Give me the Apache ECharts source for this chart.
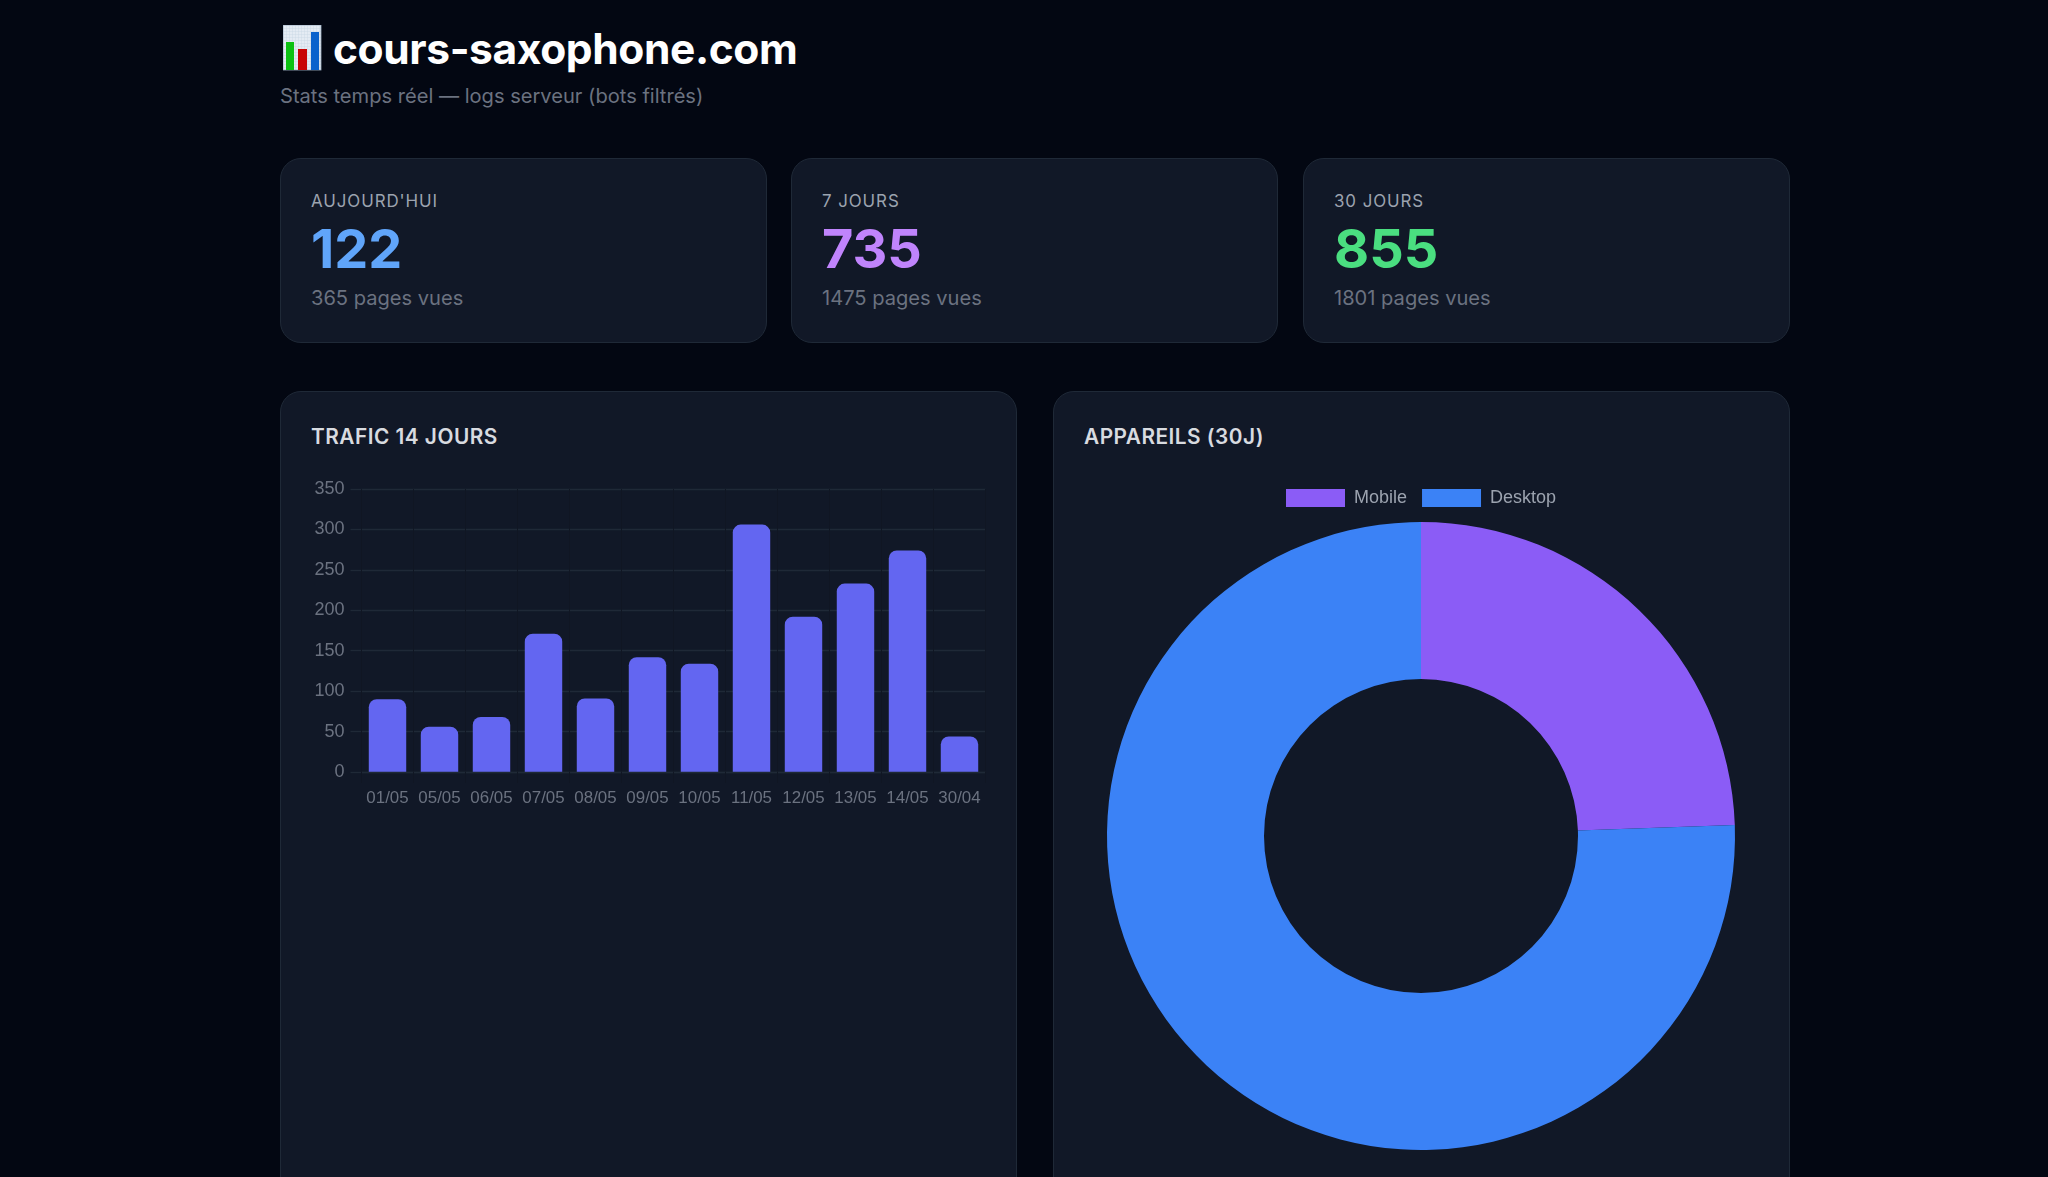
<!DOCTYPE html>
<html lang="fr">
<head>
<meta charset="utf-8">
<title>cours-saxophone.com</title>
<script src="https://cdn.jsdelivr.net/npm/echarts@6/dist/echarts.min.js"></script>
<style>
  html, body { margin: 0; height: 100%; background: #030712; overflow: hidden; }
  body { position: relative; width: 2048px; height: 1177px; font-family: Inter, "Noto Sans", sans-serif; -webkit-font-smoothing: antialiased; }
  .abs { position: absolute; white-space: nowrap; }
  h1 { margin: 0; left: 333px; top: 21px; font-size: 42.5px; line-height: 56px; font-weight: 700; color: #fff; letter-spacing: -0.4px; }
  .sub { left: 280px; top: 83px; font-size: 20.1px; line-height: 26px; color: #6b7280; }
  .card { box-sizing: border-box; position: absolute; top: 158px; width: 487px; height: 185px; background: #111827; border: 1.3px solid #1f2937; border-radius: 21px; }
  .card .lbl { position: absolute; left: 30px; top: 31px; font-size: 16.9px; line-height: 22px; color: #9ca3af; letter-spacing: 0.93px; }
  .card .val { position: absolute; left: 30px; top: 55px; font-size: 54px; line-height: 70px; font-weight: 700; }
  .card .pv  { position: absolute; left: 30px; top: 126px; font-size: 20.1px; line-height: 26px; color: #6b7280; }
  .panel { box-sizing: border-box; position: absolute; top: 391px; width: 737px; height: 900px; background: #111827; border: 1.3px solid #1f2937; border-radius: 21px; }
  .panel h2 { position: absolute; left: 30px; top: 32px; margin: 0; font-size: 20.8px; line-height: 26px; font-weight: 600; color: #d8dbe0; letter-spacing: 0.5px; white-space: nowrap; }
  .chart { position: absolute; top: 391px; width: 737px; height: 786px; }
</style>
</head>
<body>
<svg class="abs" style="left:283px;top:25px" width="39" height="46" viewBox="0 0 39 46">
  <defs>
    <pattern id="g" width="3" height="3" patternUnits="userSpaceOnUse">
      <rect width="3" height="3" fill="#e4ebf3"/><path d="M0 0H3M0 0V3" stroke="#c6d3e2" stroke-width="0.7"/>
    </pattern>
  </defs>
  <rect x="0" y="0" width="38" height="45" fill="url(#g)" stroke="#9fb0c4" stroke-width="0.8"/>
  <rect x="3" y="17" width="8" height="28" fill="#0cc112"/>
  <rect x="15" y="24" width="9" height="21" fill="#c80404"/>
  <rect x="28" y="7" width="8" height="38" fill="#0a62cc"/>
</svg>
<h1 class="abs">cours-saxophone.com</h1>
<div class="abs sub">Stats temps réel — logs serveur (bots filtrés)</div>
<div id="cards"></div>
<div class="panel" style="left:280px"><h2>TRAFIC 14 JOURS</h2></div>
<div class="panel" style="left:1053px"><h2>APPAREILS (30J)</h2></div>
<div class="chart" id="bars" style="left:280px"></div>
<div class="chart" id="donut" style="left:1053px"></div>
<script>
// Summary figures
const cardLabels = ["AUJOURD'HUI", "7 JOURS", "30 JOURS"];
const cardVisitors = [122, 735, 855];
const cardPages = [365, 1475, 1801];
const cardColors = ["#60a5fa", "#c084fc", "#4ade80"];
const cardLefts = [280, 791, 1303];

// Daily traffic
const days = ["01/05", "05/05", "06/05", "07/05", "08/05", "09/05", "10/05", "11/05", "12/05", "13/05", "14/05", "30/04"];
const visits = [90, 56, 68, 171, 91, 142, 134, 306, 192, 233, 274, 44];
const yTicks = { min: 0, max: 350, interval: 50 };

// Device split over 30 days
const devices = ["Mobile", "Desktop"];
const deviceCounts = [209, 646];
const deviceColors = ["#8b5cf6", "#3b82f6"];

document.getElementById("cards").innerHTML = cardLabels.map((label, i) =>
  `<div class="card" style="left:${cardLefts[i]}px">
     <div class="lbl">${label}</div>
     <div class="val" style="color:${cardColors[i]}">${cardVisitors[i]}</div>
     <div class="pv">${cardPages[i]} pages vues</div>
   </div>`).join("");

const gridColor = "#1f2937";
const faintColor = "#101623";
const axisFont = '"Liberation Sans", Arial, sans-serif';

echarts.init(document.getElementById("bars")).setOption({
  animation: false,
  grid: { left: 81.5, top: 98, width: 624, height: 283 },
  xAxis: {
    type: "category",
    data: days,
    z: 3,
    axisLine: { show: true, lineStyle: { color: gridColor, width: 1.3 } },
    axisTick: { show: true, length: 11, lineStyle: { color: faintColor, width: 1 } },
    axisLabel: { color: "#6b7280", fontSize: 16.9, fontFamily: axisFont, margin: 18, interval: 0 },
    splitLine: { show: true, lineStyle: { color: faintColor, width: 1 } }
  },
  yAxis: {
    type: "value",
    min: yTicks.min,
    max: yTicks.max,
    interval: yTicks.interval,
    axisLine: { show: false },
    axisTick: { show: true, length: 11, lineStyle: { color: gridColor, width: 1.3 } },
    axisLabel: { color: "#6b7280", fontSize: 18, fontFamily: axisFont, margin: 17 },
    splitLine: { show: true, lineStyle: { color: gridColor, width: 1.3 } }
  },
  series: [{
    type: "bar",
    data: visits,
    barWidth: "72%",
    silent: true,
    itemStyle: { color: "#6366f1", borderRadius: [8, 8, 0, 0] }
  }]
});

echarts.init(document.getElementById("donut")).setOption({
  animation: false,
  legend: {
    left: 228,
    top: 93,
    itemWidth: 59,
    itemHeight: 18,
    itemGap: 15,
    icon: "rect",
    selectedMode: false,
    data: devices,
    textStyle: { color: "#9ca3af", fontSize: 18, fontFamily: axisFont, padding: [0, 0, 0, 4] }
  },
  series: [{
    type: "pie",
    center: [368, 445],
    radius: [157, 314],
    startAngle: 90,
    clockwise: true,
    silent: true,
    label: { show: false },
    labelLine: { show: false },
    data: devices.map((name, i) => ({ name, value: deviceCounts[i], itemStyle: { color: deviceColors[i] } }))
  }]
});
</script>
</body>
</html>
